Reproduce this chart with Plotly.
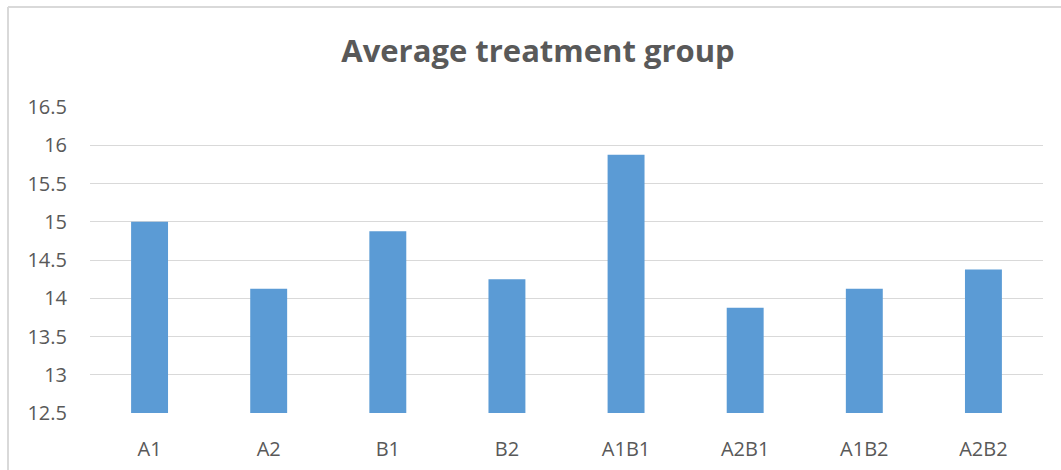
import plotly.graph_objects as go

# Treatment groups and their average values
groups = ["A1", "A2", "B1", "B2", "A1B1", "A2B1", "A1B2", "A2B2"]
averages = [15.0, 14.125, 14.875, 14.25, 15.875, 13.875, 14.125, 14.375]

# Y axis ticks
y_ticks = [12.5, 13, 13.5, 14, 14.5, 15, 15.5, 16, 16.5]
y_tick_text = ["12.5", "13", "13.5", "14", "14.5", "15", "15.5", "16", "16.5"]

TEXT = "#595959"
GRID = "#D9D9D9"
BAR = "#5B9BD5"

W, H = 1061, 470
ML, MR, MT, MB = 90, 18, 107, 57
PW, PH = W - ML - MR, H - MT - MB

fig = go.Figure(
    go.Bar(
        x=groups,
        y=averages,
        marker=dict(color=BAR, line=dict(width=0)),
    )
)

fig.update_layout(
    width=W,
    height=H,
    margin=dict(l=ML, r=MR, t=MT, b=MB, autoexpand=False),
    paper_bgcolor="white",
    plot_bgcolor="white",
    bargap=0.69,
    showlegend=False,
    title=dict(
        text="<b>Average treatment group</b>",
        x=538 / W,
        xref="container",
        xanchor="center",
        y=1 - 51 / H,
        yref="container",
        yanchor="middle",
        font=dict(family="Open Sans", size=31, color=TEXT),
    ),
    font=dict(family="Open Sans", color=TEXT, size=20),
)

fig.update_xaxes(
    showgrid=False,
    showline=False,
    ticks="",
    automargin=False,
    ticklabelstandoff=22,
    tickfont=dict(size=20, color=TEXT),
)
fig.update_yaxes(
    range=[12.5, 16.5],
    tickvals=y_ticks,
    ticktext=y_tick_text,
    showgrid=True,
    gridcolor=GRID,
    gridwidth=1.3,
    zeroline=False,
    showline=False,
    ticks="",
    automargin=False,
    ticklabelstandoff=22,
    tickfont=dict(size=20, color=TEXT),
)

# Chart frame along the top and left edges
fx = -(ML - 8) / PW
fy = 1 + (MT - 7) / PH
fig.add_shape(type="line", xref="paper", yref="paper",
              x0=fx, x1=1.05, y0=fy, y1=fy,
              line=dict(color=GRID, width=2))
fig.add_shape(type="line", xref="paper", yref="paper",
              x0=fx, x1=fx, y0=-0.3, y1=fy,
              line=dict(color=GRID, width=2))

fig.write_html("out.html")
